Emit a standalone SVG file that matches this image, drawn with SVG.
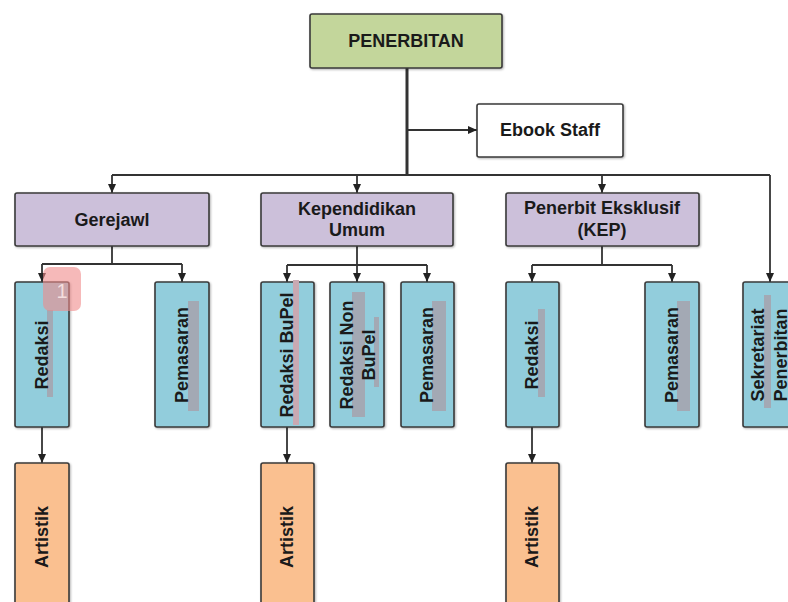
<svg xmlns="http://www.w3.org/2000/svg" width="788" height="602" viewBox="0 0 788 602">
  <style>
    .box { stroke: #3a3a3a; stroke-width: 1.6; filter: url(#shadow); }
    .green { fill: #c3d69b; }
    .white { fill: #ffffff; }
    .purple { fill: #ccc0da; }
    .blue { fill: #92cddc; }
    .orange { fill: #fac090; }
    .lbl { font-family: "Liberation Sans", Arial, sans-serif; font-weight: bold; font-size: 18px; fill: #1a1a1a; text-anchor: middle; }
    .vl { dominant-baseline: central; }
    .wire { fill: none; stroke: #333333; stroke-width: 1.8; }
    .trunk { fill: none; stroke: #333333; stroke-width: 3; }
    .hl { fill: #a3a9b4; }
    .hlp { fill: #c9a9b2; }
  </style>
  <defs>
    <filter id="shadow" x="-10%" y="-10%" width="130%" height="130%">
      <feDropShadow dx="1" dy="1" stdDeviation="0.8" flood-color="#000" flood-opacity="0.3"/>
    </filter>
    <marker id="arrow" markerUnits="userSpaceOnUse" markerWidth="10" markerHeight="10" viewBox="0 0 10 10" refX="9" refY="5" orient="auto">
      <path d="M0,1 L9,5 L0,9 Z" fill="#222"/>
    </marker>
  </defs>

  <rect width="788" height="602" fill="#ffffff"/>

  <!-- connectors -->
  <g id="connectors">
    <path class="trunk" d="M407 68 V176"/>
    <path class="wire" d="M407 130 H477" marker-end="url(#arrow)"/>
    <path class="wire" d="M112 175 H770"/>
    <path class="wire" d="M112 175 V193" marker-end="url(#arrow)"/>
    <path class="wire" d="M357 175 V193" marker-end="url(#arrow)"/>
    <path class="wire" d="M602 175 V193" marker-end="url(#arrow)"/>
    <path class="wire" d="M770 175 V282" marker-end="url(#arrow)"/>

    <path class="wire" d="M112 246 V264 M42 264 H182"/>
    <path class="wire" d="M42 264 V282" marker-end="url(#arrow)"/>
    <path class="wire" d="M182 264 V282" marker-end="url(#arrow)"/>

    <path class="wire" d="M357 246 V265 M287 265 H427"/>
    <path class="wire" d="M287 265 V282" marker-end="url(#arrow)"/>
    <path class="wire" d="M357 265 V282" marker-end="url(#arrow)"/>
    <path class="wire" d="M427 265 V282" marker-end="url(#arrow)"/>

    <path class="wire" d="M602 246 V265 M532 265 H672"/>
    <path class="wire" d="M532 265 V282" marker-end="url(#arrow)"/>
    <path class="wire" d="M672 265 V282" marker-end="url(#arrow)"/>

    <path class="wire" d="M42 427 V463" marker-end="url(#arrow)"/>
    <path class="wire" d="M287 427 V463" marker-end="url(#arrow)"/>
    <path class="wire" d="M532 427 V463" marker-end="url(#arrow)"/>
  </g>

  <!-- top level -->
  <g id="penerbitan">
    <rect class="box green" x="310" y="14" width="192" height="54" rx="2"/>
    <text class="lbl" x="406" y="47">PENERBITAN</text>
  </g>
  <g id="ebook-staff">
    <rect class="box white" x="477" y="104" width="146" height="53" rx="2"/>
    <text class="lbl" x="550" y="136">Ebook Staff</text>
  </g>

  <!-- divisions -->
  <g id="gerejawl">
    <rect class="box purple" x="15" y="193" width="194" height="53" rx="2"/>
    <text class="lbl" x="112" y="226">Gerejawl</text>
  </g>
  <g id="kependidikan-umum">
    <rect class="box purple" x="261" y="193" width="192" height="53" rx="2"/>
    <text class="lbl" x="357" y="215">Kependidikan</text>
    <text class="lbl" x="357" y="236">Umum</text>
  </g>
  <g id="penerbit-eksklusif">
    <rect class="box purple" x="506" y="193" width="193" height="53" rx="2"/>
    <text class="lbl" x="602" y="214">Penerbit Eksklusif</text>
    <text class="lbl" x="602" y="236">(KEP)</text>
  </g>

  <!-- units under Gerejawl -->
  <g id="g-redaksi">
    <rect class="box blue" x="15" y="282" width="54" height="145" rx="2"/>
    <rect class="hl" x="47" y="310" width="6" height="87"/>
    <text class="lbl vl" transform="translate(42 355) rotate(-90)">Redaksi</text>
  </g>
  <g id="g-pemasaran">
    <rect class="box blue" x="155" y="282" width="54" height="145" rx="2"/>
    <rect class="hl" x="188" y="301" width="11" height="110"/>
    <text class="lbl vl" transform="translate(182 355) rotate(-90)">Pemasaran</text>
  </g>
  <g id="g-artistik">
    <rect class="box orange" x="15" y="463" width="54" height="150" rx="2"/>
    <text class="lbl vl" transform="translate(42 537) rotate(-90)">Artistik</text>
  </g>

  <!-- units under Kependidikan Umum -->
  <g id="k-redaksi-bupel">
    <rect class="box blue" x="261" y="282" width="53" height="145" rx="2"/>
    <rect class="hlp" x="293" y="280" width="6" height="145"/>
    <text class="lbl vl" transform="translate(287 355) rotate(-90)">Redaksi BuPel</text>
  </g>
  <g id="k-redaksi-non-bupel">
    <rect class="box blue" x="330" y="282" width="54" height="145" rx="2"/>
    <rect class="hl" x="352" y="292" width="13" height="125"/>
    <rect class="hl" x="374" y="317" width="5" height="70"/>
    <text class="lbl vl" transform="translate(347 355) rotate(-90)">Redaksi Non</text>
    <text class="lbl vl" transform="translate(369 355) rotate(-90)">BuPel</text>
  </g>
  <g id="k-pemasaran">
    <rect class="box blue" x="401" y="282" width="53" height="145" rx="2"/>
    <rect class="hl" x="432" y="301" width="14" height="110"/>
    <text class="lbl vl" transform="translate(427 355) rotate(-90)">Pemasaran</text>
  </g>
  <g id="k-artistik">
    <rect class="box orange" x="261" y="463" width="53" height="150" rx="2"/>
    <text class="lbl vl" transform="translate(287 537) rotate(-90)">Artistik</text>
  </g>

  <!-- units under Penerbit Eksklusif -->
  <g id="e-redaksi">
    <rect class="box blue" x="506" y="282" width="53" height="145" rx="2"/>
    <rect class="hl" x="538" y="309" width="7" height="88"/>
    <text class="lbl vl" transform="translate(532 355) rotate(-90)">Redaksi</text>
  </g>
  <g id="e-pemasaran">
    <rect class="box blue" x="645" y="282" width="54" height="145" rx="2"/>
    <rect class="hl" x="677" y="301" width="13" height="110"/>
    <text class="lbl vl" transform="translate(672 355) rotate(-90)">Pemasaran</text>
  </g>
  <g id="e-artistik">
    <rect class="box orange" x="506" y="463" width="53" height="150" rx="2"/>
    <text class="lbl vl" transform="translate(532 537) rotate(-90)">Artistik</text>
  </g>

  <g id="sekretariat">
    <rect class="box blue" x="743" y="282" width="60" height="145" rx="2"/>
    <rect class="hl" x="764" y="295" width="7" height="113"/>
    <text class="lbl vl" transform="translate(758 355) rotate(-90)">Sekretariat</text>
    <text class="lbl vl" transform="translate(781 355) rotate(-90)">Penerbitan</text>
  </g>

  <!-- numbered marker -->
  <g id="badge">
    <rect x="43" y="267" width="38" height="44" rx="7" fill="#f08a8a" opacity="0.6"/>
    <text x="62" y="298" font-family="Liberation Sans, Arial, sans-serif" font-size="20" fill="#f4dede" text-anchor="middle">1</text>
  </g>
</svg>
